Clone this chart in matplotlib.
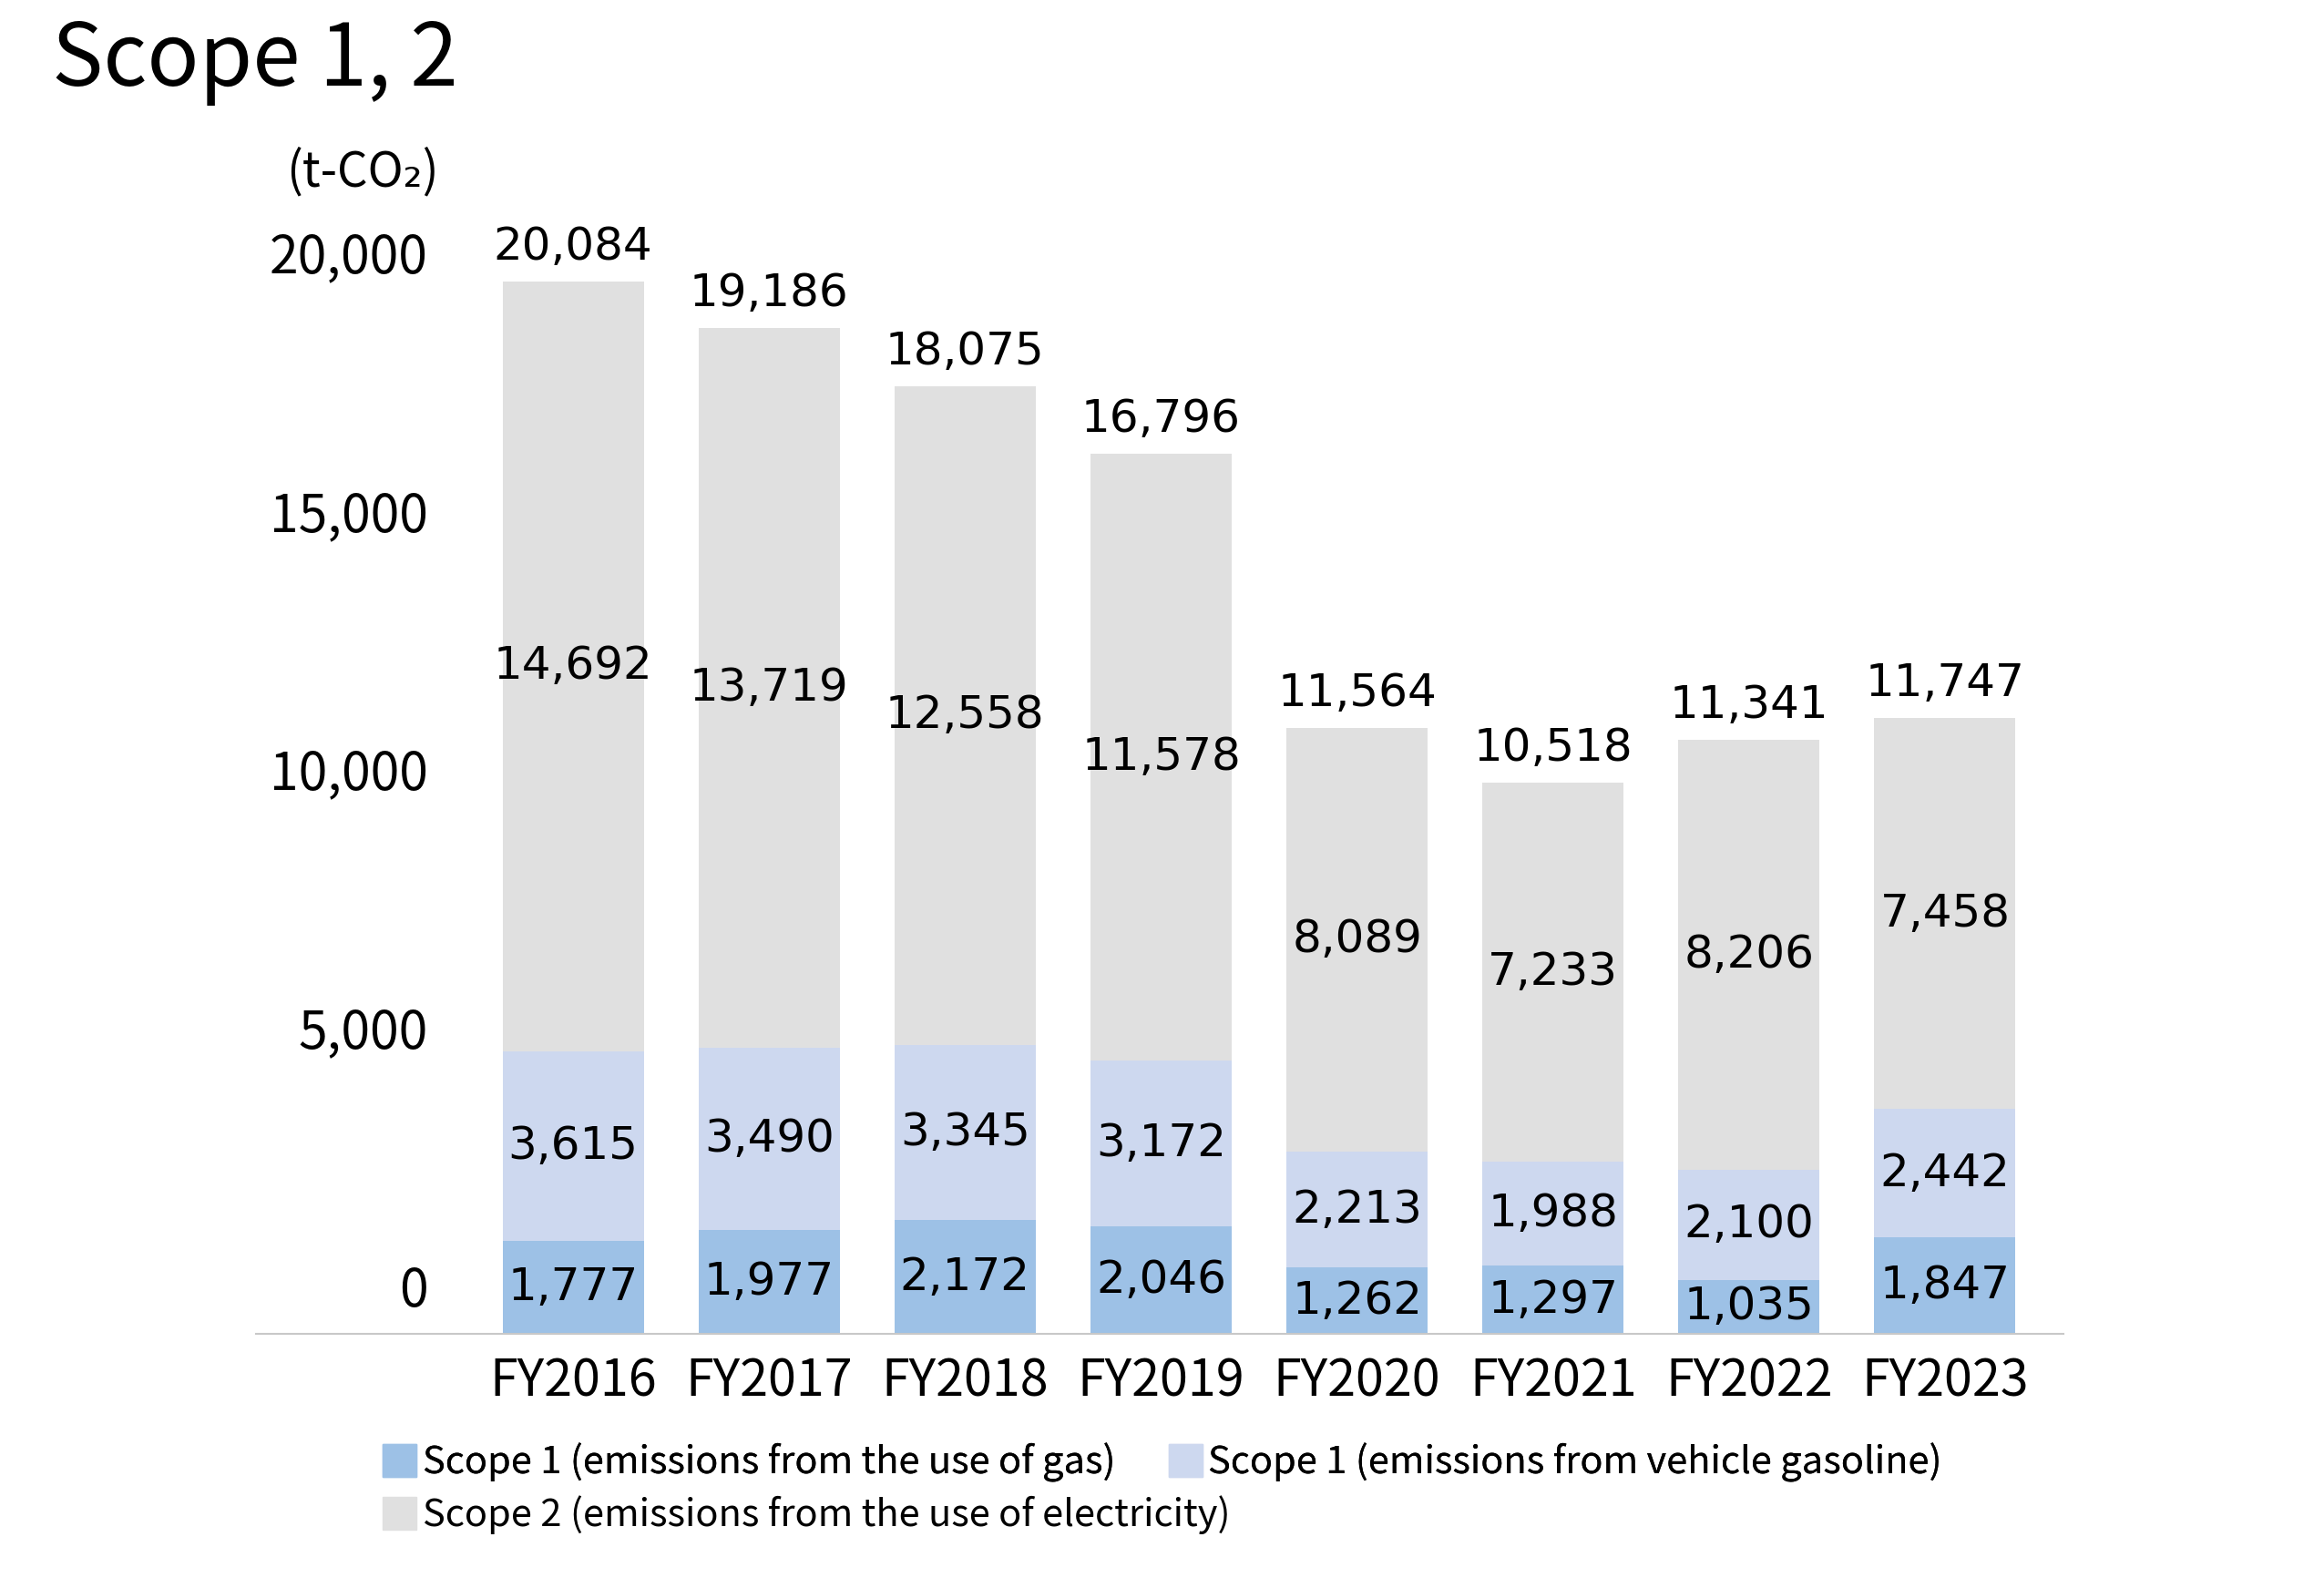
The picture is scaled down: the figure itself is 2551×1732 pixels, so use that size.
import matplotlib
matplotlib.use("Agg")
import matplotlib.pyplot as plt
import matplotlib.transforms as mtransforms
from matplotlib.patches import Patch

# data
years = ['FY2016', 'FY2017', 'FY2018', 'FY2019', 'FY2020', 'FY2021', 'FY2022', 'FY2023']
gas = [1777, 1977, 2172, 2046, 1262, 1297, 1035, 1847]
vehicle = [3615, 3490, 3345, 3172, 2213, 1988, 2100, 2442]
electricity = [14692, 13719, 12558, 11578, 8089, 7233, 8206, 7458]
totals = [20084, 19186, 18075, 16796, 11564, 10518, 11341, 11747]
yticks = [0, 5000, 10000, 15000, 20000]

labels = ['Scope 1 (emissions from the use of gas)',
          'Scope 1 (emissions from vehicle gasoline)',
          'Scope 2 (emissions from the use of electricity)']
colors = ['#9DC1E6', '#CDD8EF', '#E0E0E0']

narrow = ['Noto Sans CJK JP', 'DejaVu Sans']

fig = plt.figure(figsize=(25.51, 17.32), dpi=100)
ax = fig.add_axes([0.110, 0.1547, 0.778, 0.6975])

x = list(range(len(years)))
w = 0.72
b1 = ax.bar(x, gas, w, color=colors[0])
bottom2 = gas
b2 = ax.bar(x, vehicle, w, bottom=bottom2, color=colors[1])
bottom3 = [g + v for g, v in zip(gas, vehicle)]
b3 = ax.bar(x, electricity, w, bottom=bottom3, color=colors[2])

for bars in (b1, b2, b3):
    ax.bar_label(bars, labels=['{:,}'.format(int(r.get_height())) for r in bars],
                 label_type='center', fontsize=36, color='black')

for i, t in enumerate(totals):
    ax.annotate('{:,}'.format(t), xy=(i, t), xytext=(0, 10), textcoords='offset points',
                ha='center', va='bottom', fontsize=36, color='black')

ax.set_xlim(-1.62, 7.606)
ax.set_ylim(0, 21000)

for s in ['top', 'left', 'right']:
    ax.spines[s].set_visible(False)
ax.spines['bottom'].set_color('#C8C8C8')
ax.spines['bottom'].set_linewidth(1.5)

ax.set_xticks(x)
ax.set_xticklabels(years, family=narrow, fontsize=40)
ax.tick_params(axis='x', length=0, pad=17)

ax.set_yticks(yticks)
ax.set_yticklabels(['{:,}'.format(v) for v in yticks], family=narrow, fontsize=41)
ax.tick_params(axis='y', length=0, pad=-136)
# tick labels sit a little above their gridline position in the original
for v, lab in zip(yticks, ax.get_yticklabels()):
    shift = mtransforms.ScaledTranslation(0, 0.53 - 0.16 * v / 20000, fig.dpi_scale_trans)
    lab.set_transform(lab.get_transform() + shift)

fig.text(57 / 2551, 1 - 94 / 1732, 'Scope 1, 2', family=narrow, fontsize=68,
         va='baseline', ha='left')
fig.text(314 / 2551, 1 - 189 / 1732, '(t-CO\u2082)', family=narrow, fontsize=38,
         va='center', ha='left')

leg_kw = dict(frameon=False, prop={'family': narrow, 'size': 30}, handlelength=0.9,
              handleheight=0.95, handletextpad=0.15, columnspacing=1.4,
              borderpad=0, borderaxespad=0, loc='center left')
leg1 = fig.legend(handles=[Patch(color=colors[0], label=labels[0]),
                           Patch(color=colors[1], label=labels[1])],
                  ncol=2, bbox_to_anchor=(0.1646, 1 - 1605 / 1732), **leg_kw)
fig.add_artist(leg1)
fig.legend(handles=[Patch(color=colors[2], label=labels[2])],
           bbox_to_anchor=(0.1646, 1 - 1663 / 1732), **leg_kw)

fig.savefig('out.png', dpi=100)
